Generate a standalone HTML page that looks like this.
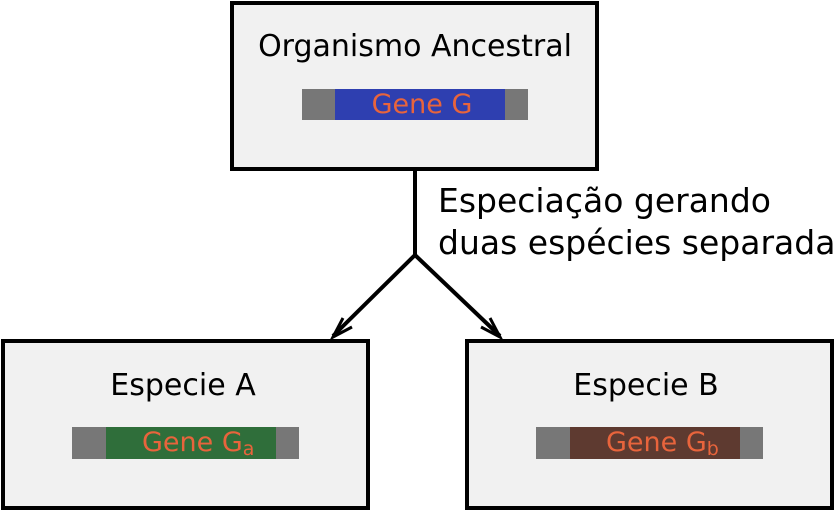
<!DOCTYPE html>
<html><head><style>body{margin:0;background:#fff}svg{display:block}</style></head><body>
<svg width="835" height="512" viewBox="0 0 835 512" xmlns="http://www.w3.org/2000/svg" font-family="DejaVu Sans, Liberation Sans, sans-serif">
<rect x="232" y="3" width="365" height="166" fill="#f1f1f1" stroke="#000" stroke-width="4"/>
<rect x="3" y="341" width="365" height="167" fill="#f1f1f1" stroke="#000" stroke-width="4"/>
<rect x="467" y="341" width="365" height="167" fill="#f1f1f1" stroke="#000" stroke-width="4"/>
<rect x="302" y="89" width="226" height="31" fill="#777"/><rect x="335" y="89" width="170" height="31" fill="#2e3fb0"/>
<rect x="72" y="427" width="227" height="32" fill="#777"/><rect x="106" y="427" width="170" height="32" fill="#2f6e3a"/>
<rect x="536" y="427" width="227" height="32" fill="#777"/><rect x="570" y="427" width="170" height="32" fill="#5e3a30"/>
<text x="415" y="56" font-size="30" text-anchor="middle">Organismo Ancestral</text>
<text x="422" y="113" font-size="27" text-anchor="middle" fill="#e8643c">Gene G</text>
<text x="183" y="395" font-size="30" text-anchor="middle">Especie A</text>
<text x="142" y="451" font-size="27" fill="#e8643c">Gene G<tspan font-size="19" dy="4">a</tspan></text>
<text x="646" y="395" font-size="30" text-anchor="middle">Especie B</text>
<text x="606" y="451" font-size="27" fill="#e8643c">Gene G<tspan font-size="19" dy="4">b</tspan></text>
<path d="M415 170 V255 L333 336 M415 255 L500 336" fill="none" stroke="#000" stroke-width="4"/>
<path d="M343 318 L333 337 L352 327 M490 318 L500 337 L481 327" fill="none" stroke="#000" stroke-width="3"/>
<text x="438" y="212" font-size="33">Especiação gerando</text>
<text x="438" y="254" font-size="33">duas espécies separadas</text>
</svg>
</body></html>
